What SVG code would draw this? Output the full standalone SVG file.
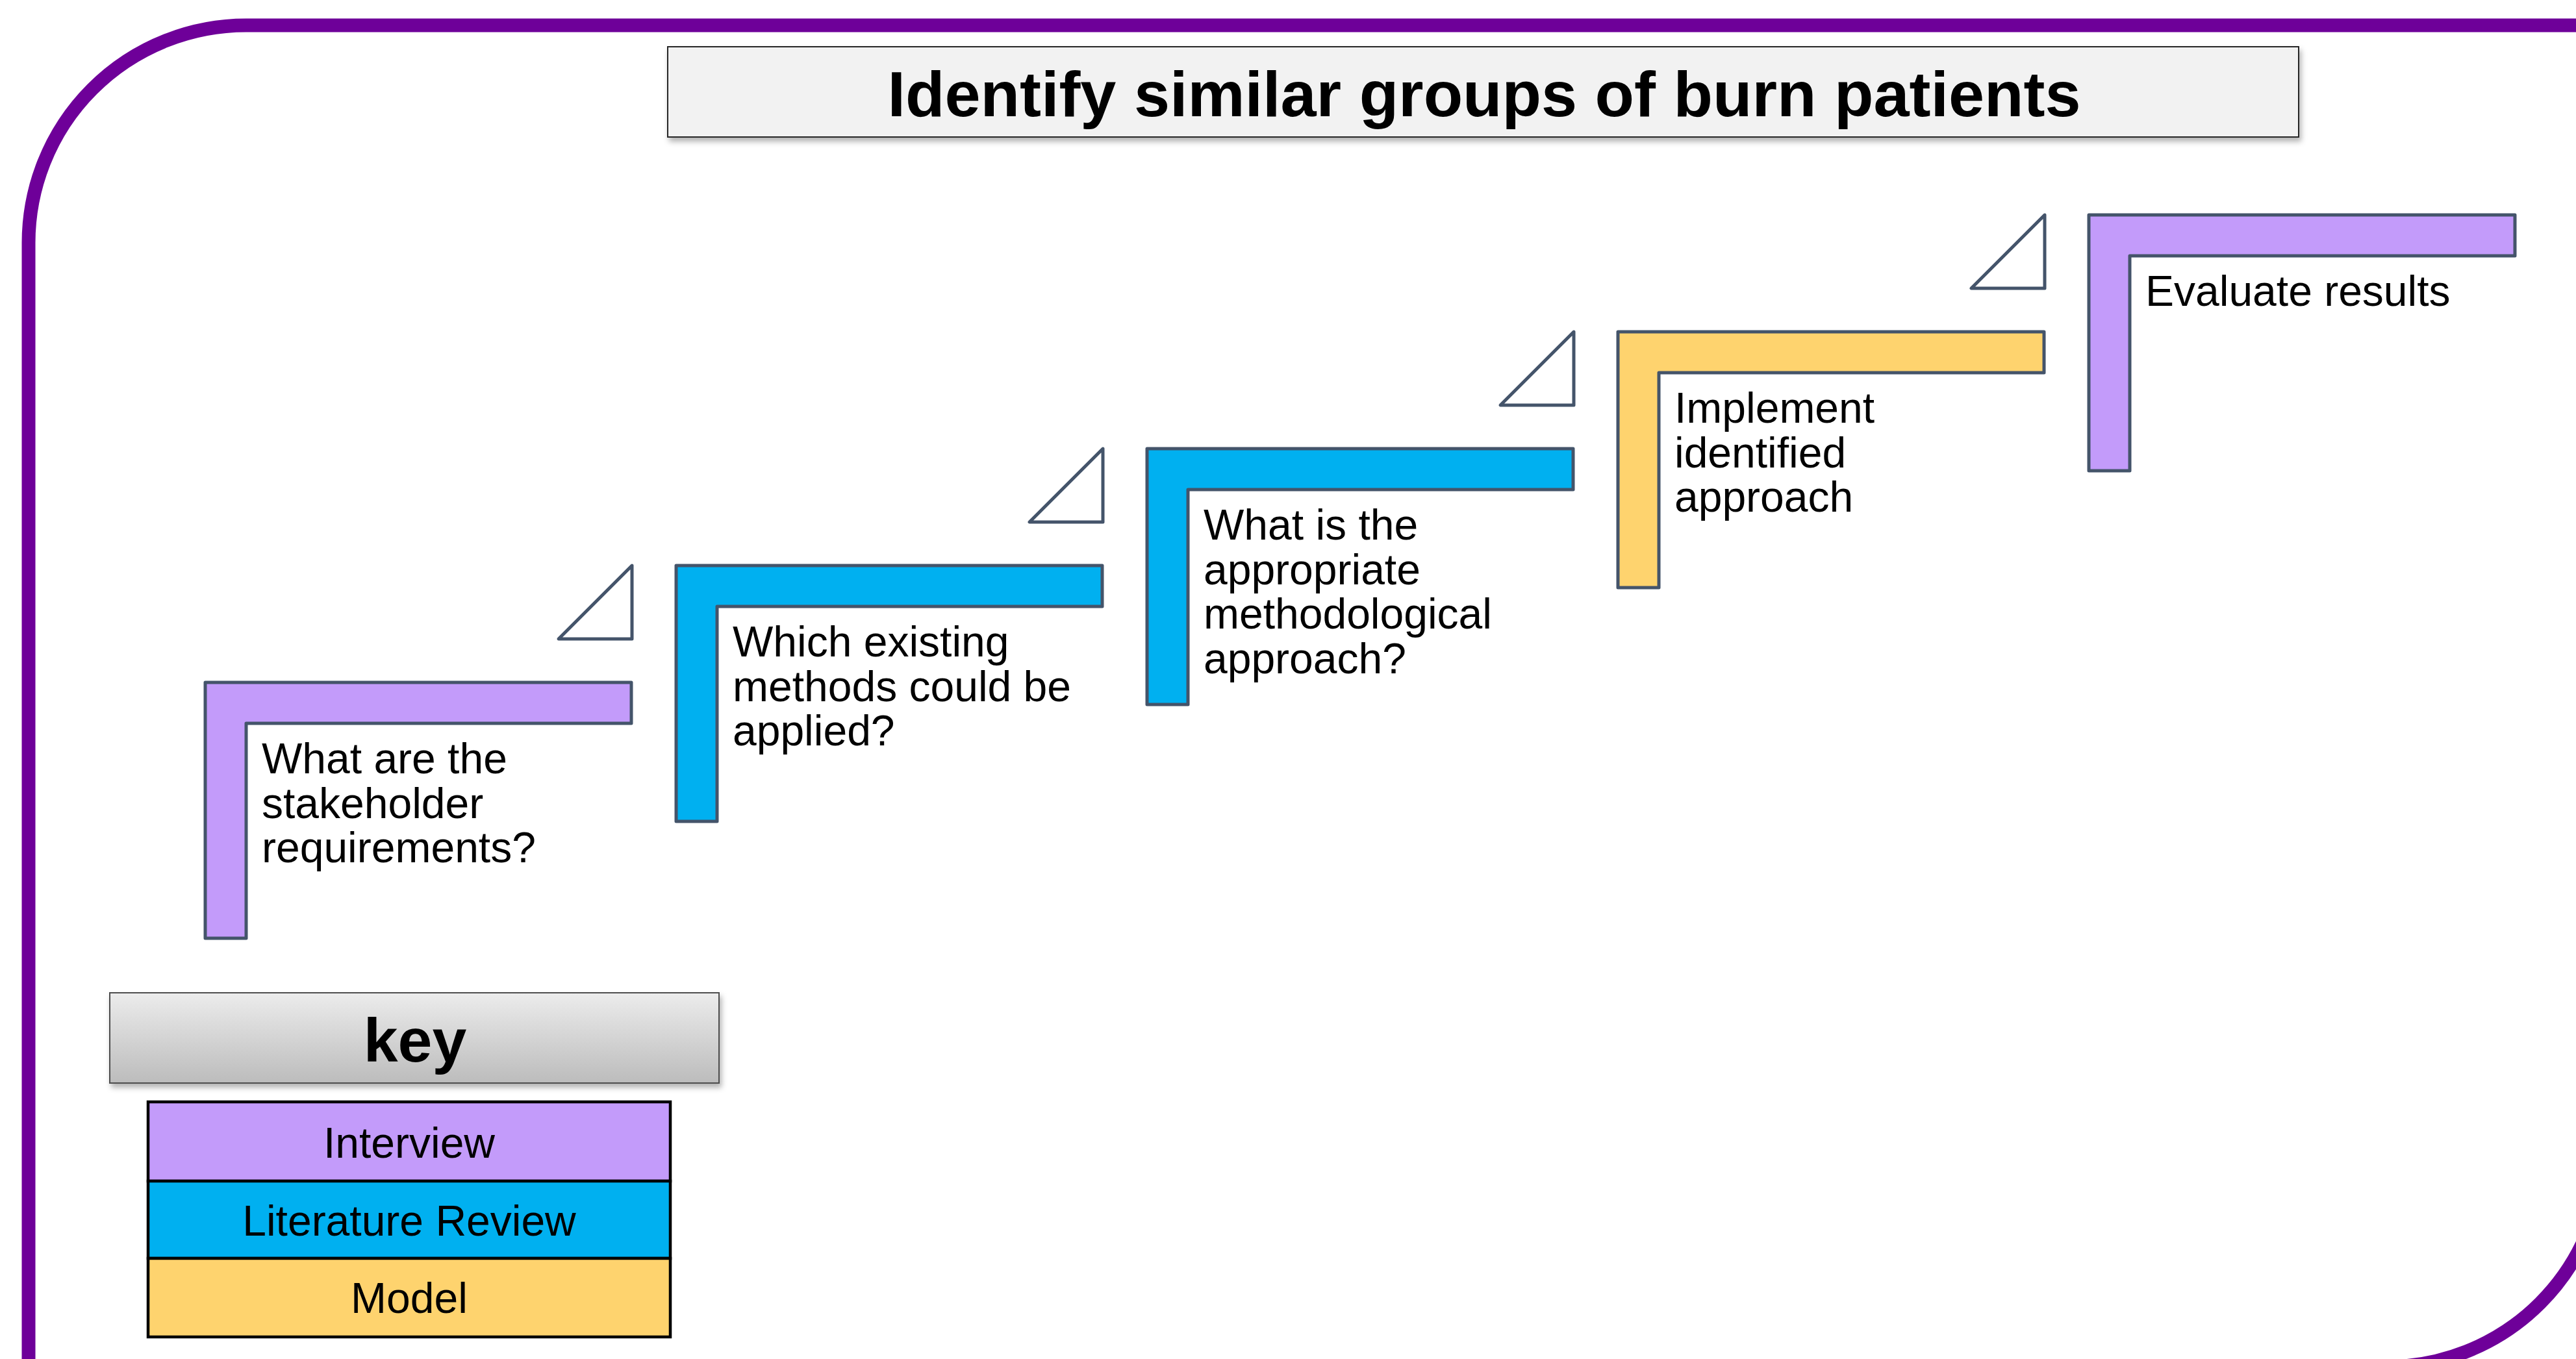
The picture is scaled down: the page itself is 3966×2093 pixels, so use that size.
<svg xmlns="http://www.w3.org/2000/svg" width="3966" height="2093" viewBox="0 0 3966 2093">
  <defs>
    <style>
      .step { stroke: #44546A; stroke-width: 5; stroke-linejoin: round; }
      .interview { fill: #C39BFA; }
      .litreview { fill: #00B0F0; }
      .model { fill: #FED36E; }
      .label { font-family: "Liberation Sans", Arial, sans-serif; font-size: 66px; fill: #000000; }
      .tri { fill: #FFFFFF; stroke: #44546A; stroke-width: 5; stroke-linejoin: round; }
      .keyrow { stroke: #000000; stroke-width: 4.5; }
      .keytext { font-family: "Liberation Sans", Arial, sans-serif; font-size: 66px; fill: #000000; text-anchor: middle; }
    </style>
    <linearGradient id="keyGrad" x1="0" y1="0" x2="0" y2="1">
      <stop offset="0" stop-color="#ECECEC"/>
      <stop offset="1" stop-color="#BCBCBC"/>
    </linearGradient>
    <filter id="shadow" x="-5%" y="-20%" width="110%" height="150%">
      <feDropShadow dx="3" dy="6" stdDeviation="4" flood-color="#000000" flood-opacity="0.3"/>
    </filter>
  </defs>

  <rect x="0" y="0" width="3966" height="2093" fill="#FFFFFF"/>

  <!-- Frame -->
  <g id="frame">
    <path d="M379 39 H4009 V1770 A335 335 0 0 1 3674 2105 H44 V374 A335 335 0 0 1 379 39 Z" fill="none" stroke="#6E0099" stroke-width="21"/>
  </g>

  <!-- Title -->
  <g id="title">
    <rect x="1028" y="72" width="2511" height="139" fill="#F2F2F2" stroke="#262626" stroke-width="2" filter="url(#shadow)"/>
    <text x="2285" y="179" font-family="'Liberation Sans', Arial, sans-serif" font-size="99" font-weight="bold" text-anchor="middle" fill="#000000">Identify similar groups of burn patients</text>
  </g>

  <!-- Connectors (progression triangles) -->
  <g id="connectors">
    <polygon class="tri" points="860,984 973,984 973,871"/>
    <polygon class="tri" points="1585,804 1698,804 1698,691"/>
    <polygon class="tri" points="2310,624 2423,624 2423,511"/>
    <polygon class="tri" points="3035,444 3148,444 3148,331"/>
  </g>

  <!-- Steps -->
  <g id="step1">
    <path class="step interview" d="M316 1051 H972 V1114 H379 V1445 H316 Z"/>
    <text class="label" x="403" y="1191"><tspan x="403">What are the</tspan><tspan x="403" dy="68.7">stakeholder</tspan><tspan x="403" dy="68.7">requirements?</tspan></text>
  </g>
  <g id="step2">
    <path class="step litreview" d="M1041 871 H1697 V934 H1104 V1265 H1041 Z"/>
    <text class="label" x="1128" y="1011"><tspan x="1128">Which existing</tspan><tspan x="1128" dy="68.7">methods could be</tspan><tspan x="1128" dy="68.7">applied?</tspan></text>
  </g>
  <g id="step3">
    <path class="step litreview" d="M1766 691 H2422 V754 H1829 V1085 H1766 Z"/>
    <text class="label" x="1853" y="831"><tspan x="1853">What is the</tspan><tspan x="1853" dy="68.7">appropriate</tspan><tspan x="1853" dy="68.7">methodological</tspan><tspan x="1853" dy="68.7">approach?</tspan></text>
  </g>
  <g id="step4">
    <path class="step model" d="M2491 511 H3147 V574 H2554 V905 H2491 Z"/>
    <text class="label" x="2578" y="651"><tspan x="2578">Implement</tspan><tspan x="2578" dy="68.7">identified</tspan><tspan x="2578" dy="68.7">approach</tspan></text>
  </g>
  <g id="step5">
    <path class="step interview" d="M3216 331 H3872 V394 H3279 V725 H3216 Z"/>
    <text class="label" x="3303" y="471">Evaluate results</text>
  </g>

  <!-- Key -->
  <g id="key-header">
    <rect x="169" y="1529" width="938" height="139" fill="url(#keyGrad)" stroke="#4D4D4D" stroke-width="2" filter="url(#shadow)"/>
    <text x="639" y="1635" font-family="'Liberation Sans', Arial, sans-serif" font-size="95" font-weight="bold" text-anchor="middle" fill="#000000">key</text>
  </g>
  <g id="key-interview">
    <rect class="keyrow interview" x="228" y="1697" width="804" height="122"/>
    <text class="keytext" x="630" y="1783">Interview</text>
  </g>
  <g id="key-literature-review">
    <rect class="keyrow litreview" x="228" y="1819" width="804" height="119"/>
    <text class="keytext" x="630" y="1903">Literature Review</text>
  </g>
  <g id="key-model">
    <rect class="keyrow model" x="228" y="1938" width="804" height="121"/>
    <text class="keytext" x="630" y="2022">Model</text>
  </g>
</svg>
